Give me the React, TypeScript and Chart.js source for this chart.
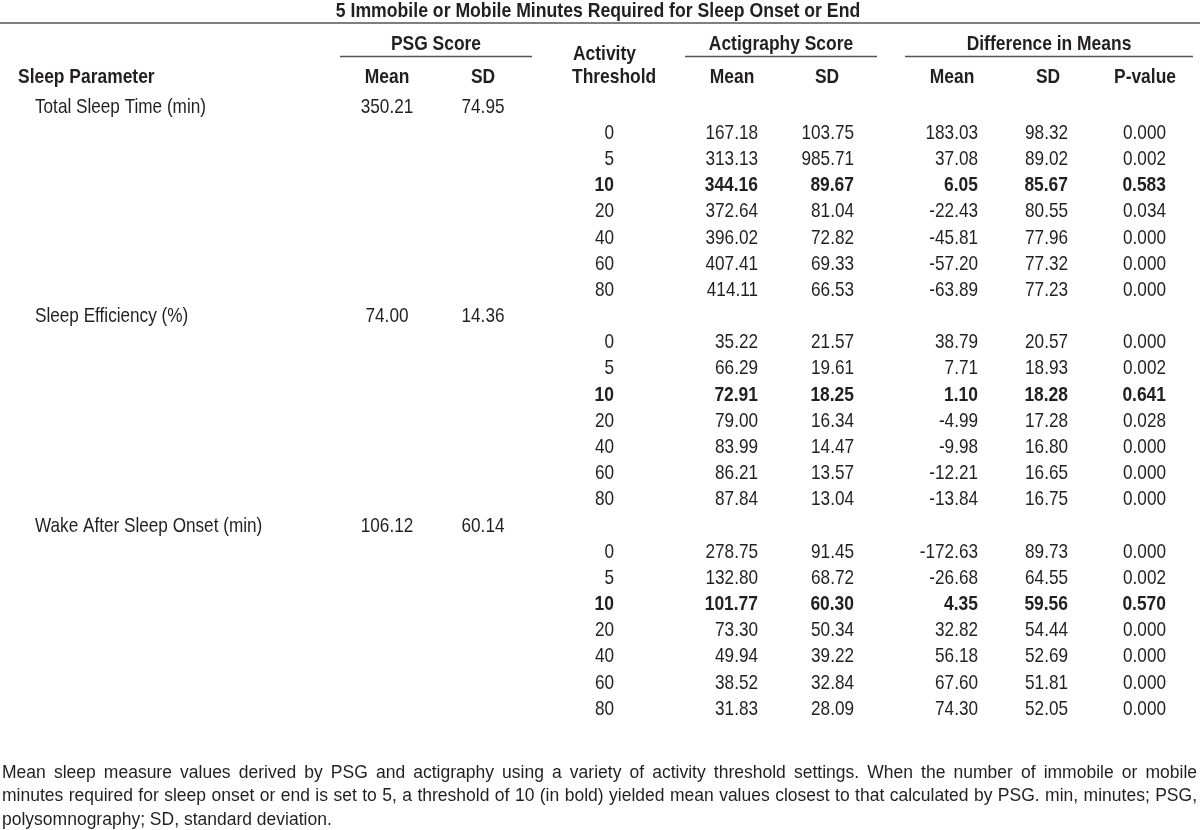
import { useEffect, useRef } from "react";
import { Chart, registerables } from "chart.js";

Chart.register(...registerables);

// ---------------- data ----------------
const title = "5 Immobile or Mobile Minutes Required for Sleep Onset or End";
const sleepParameters = ["Total Sleep Time (min)", "Sleep Efficiency (%)", "Wake After Sleep Onset (min)"];
const psgMean = [350.21, 74.0, 106.12];
const psgSD = [74.95, 14.36, 60.14];
const thresholds = [0, 5, 10, 20, 40, 60, 80];
const boldThreshold = 10;
const actMeanTST = [167.18, 313.13, 344.16, 372.64, 396.02, 407.41, 414.11];
const actMeanSE = [35.22, 66.29, 72.91, 79.0, 83.99, 86.21, 87.84];
const actMeanWASO = [278.75, 132.8, 101.77, 73.3, 49.94, 38.52, 31.83];
const actSDTST = [103.75, 985.71, 89.67, 81.04, 72.82, 69.33, 66.53];
const actSDSE = [21.57, 19.61, 18.25, 16.34, 14.47, 13.57, 13.04];
const actSDWASO = [91.45, 68.72, 60.3, 50.34, 39.22, 32.84, 28.09];
const diffMeanTST = [183.03, 37.08, 6.05, -22.43, -45.81, -57.2, -63.89];
const diffMeanSE = [38.79, 7.71, 1.1, -4.99, -9.98, -12.21, -13.84];
const diffMeanWASO = [-172.63, -26.68, 4.35, 32.82, 56.18, 67.6, 74.3];
const diffSDTST = [98.32, 89.02, 85.67, 80.55, 77.96, 77.32, 77.23];
const diffSDSE = [20.57, 18.93, 18.28, 17.28, 16.8, 16.65, 16.75];
const diffSDWASO = [89.73, 64.55, 59.56, 54.44, 52.69, 51.81, 52.05];
const pValueTST = [0.0, 0.002, 0.583, 0.034, 0.0, 0.0, 0.0];
const pValueSE = [0.0, 0.002, 0.641, 0.028, 0.0, 0.0, 0.0];
const pValueWASO = [0.0, 0.002, 0.57, 0.0, 0.0, 0.0, 0.0];
const groupHeaders = ["PSG Score", "Actigraphy Score", "Difference in Means"];
const subHeaders = ["Mean", "SD", "Mean", "SD", "Mean", "SD", "P-value"];
const footnoteLines = [
  "Mean sleep measure values derived by PSG and actigraphy using a variety of activity threshold settings. When the number of immobile or mobile",
  "minutes required for sleep onset or end is set to 5, a threshold of 10 (in bold) yielded mean values closest to that calculated by PSG. min, minutes; PSG,",
  "polysomnography; SD, standard deviation.",
];

// ---------------- layout / style ----------------
const W = 1200;
const H = 830;
const FONT = '"Liberation Sans", Arial, sans-serif';
const TEXT_SIZE = 21;
const NARROW = 0.817; // emulate Arial Narrow
const NARROW_BOLD = 0.83;
const NARROW_TITLE = 0.84;
const FOOT_SIZE = 17.5;
const TEXT_COLOR = "#231f20";
const RULE_COLOR = "#555";
const ROW_Y0 = 107; // pixel centre of row 0
const ROW_H = 26.17;

type Col = { key: string; x: number; align: CanvasTextAlign };
const COLS: Col[] = [
  { key: "param", x: 35, align: "left" },
  { key: "psgMean", x: 387, align: "center" },
  { key: "psgSD", x: 483, align: "center" },
  { key: "thr", x: 614, align: "right" },
  { key: "actMean", x: 758, align: "right" },
  { key: "actSD", x: 854, align: "right" },
  { key: "diffMean", x: 978, align: "right" },
  { key: "diffSD", x: 1068, align: "right" },
  { key: "p", x: 1166, align: "right" },
];

const actMean = [actMeanTST, actMeanSE, actMeanWASO];
const actSD = [actSDTST, actSDSE, actSDWASO];
const diffMean = [diffMeanTST, diffMeanSE, diffMeanWASO];
const diffSD = [diffSDTST, diffSDSE, diffSDWASO];
const pValue = [pValueTST, pValueSE, pValueWASO];

type Cell = { x: number; y: number; text: string; bold: boolean };

function buildColumns(): Cell[][] {
  const out: Cell[][] = COLS.map(() => []);
  const idx = (k: string) => COLS.findIndex((c) => c.key === k);
  let row = 0;
  sleepParameters.forEach((name, p) => {
    out[idx("param")].push({ x: COLS[idx("param")].x, y: row, text: name, bold: false });
    out[idx("psgMean")].push({ x: COLS[idx("psgMean")].x, y: row, text: psgMean[p].toFixed(2), bold: false });
    out[idx("psgSD")].push({ x: COLS[idx("psgSD")].x, y: row, text: psgSD[p].toFixed(2), bold: false });
    row++;
    thresholds.forEach((t, k) => {
      const b = t === boldThreshold;
      const put = (key: string, text: string) =>
        out[idx(key)].push({ x: COLS[idx(key)].x, y: row, text, bold: b });
      put("thr", String(t));
      put("actMean", actMean[p][k].toFixed(2));
      put("actSD", actSD[p][k].toFixed(2));
      put("diffMean", diffMean[p][k].toFixed(2));
      put("diffSD", diffSD[p][k].toFixed(2));
      put("p", pValue[p][k].toFixed(3));
      row++;
    });
  });
  return out;
}

function font(bold: boolean, size: number) {
  return `${bold ? "bold " : ""}${size}px ${FONT}`;
}

function narrowText(
  ctx: CanvasRenderingContext2D,
  text: string,
  x: number,
  y: number,
  align: CanvasTextAlign,
  bold: boolean,
  sx?: number
) {
  ctx.save();
  ctx.translate(x, y);
  ctx.scale(sx ?? (bold ? NARROW_BOLD : NARROW), 1);
  ctx.font = font(bold, TEXT_SIZE);
  ctx.textAlign = align;
  ctx.textBaseline = "middle";
  ctx.fillText(text, 0, 0);
  ctx.restore();
}

const tablePlugin = {
  id: "tableText",
  afterDatasetsDraw(chart: any) {
    const ctx: CanvasRenderingContext2D = chart.ctx;
    ctx.save();
    ctx.fillStyle = TEXT_COLOR;

    // data cells, drawn at the library's element positions
    chart.data.datasets.forEach((ds: any, di: number) => {
      const meta = chart.getDatasetMeta(di);
      meta.data.forEach((el: any, i: number) => {
        const cell = ds.data[i] as Cell;
        narrowText(ctx, cell.text, el.x, el.y, COLS[di].align, cell.bold);
      });
    });

    // rules
    ctx.strokeStyle = RULE_COLOR;
    ctx.lineWidth = 1.6;
    const rule = (x1: number, x2: number, y: number) => {
      ctx.beginPath();
      ctx.moveTo(x1, y);
      ctx.lineTo(x2, y);
      ctx.stroke();
    };
    rule(0, W, 23);
    rule(340, 532, 56.5);
    rule(685, 877, 56.5);
    rule(905, 1193, 56.5);

    // headings
    narrowText(ctx, title, 598, 11, "center", true, NARROW_TITLE);
    [436, 781, 1049].forEach((x, i) => narrowText(ctx, groupHeaders[i], x, 44, "center", true));
    [387, 483, 732, 827, 952, 1048, 1145].forEach((x, i) => narrowText(ctx, subHeaders[i], x, 77, "center", true));
    narrowText(ctx, "Sleep Parameter", 18, 77, "left", true);
    narrowText(ctx, "Activity", 573, 54, "left", true);
    narrowText(ctx, "Threshold", 572, 77, "left", true);

    // footnote, justified
    ctx.font = font(false, FOOT_SIZE);
    ctx.textBaseline = "middle";
    ctx.textAlign = "left";
    const left = 2;
    const right = 1197;
    footnoteLines.forEach((line, li) => {
      const y = 773 + li * 23.5;
      if (li === footnoteLines.length - 1) {
        ctx.fillText(line, left, y);
        return;
      }
      const words = line.split(" ");
      const widths = words.map((w) => ctx.measureText(w).width);
      const sum = widths.reduce((a, b) => a + b, 0);
      const gap = (right - left - sum) / (words.length - 1);
      let x = left;
      words.forEach((w, i) => {
        ctx.fillText(w, x, y);
        x += widths[i] + gap;
      });
    });
    ctx.restore();
  },
};

export default function App() {
  const ref = useRef<HTMLCanvasElement | null>(null);
  useEffect(() => {
    document.body.style.margin = "0";
    const columns = buildColumns();
    const chart = new Chart(ref.current as HTMLCanvasElement, {
      type: "scatter",
      data: {
        datasets: columns.map((cells, i) => ({
          label: COLS[i].key,
          data: cells as any,
          pointRadius: 0,
          pointHoverRadius: 0,
        })),
      },
      options: {
        animation: false,
        responsive: false,
        events: [],
        layout: { padding: 0 },
        plugins: { legend: { display: false }, tooltip: { enabled: false }, title: { display: false } },
        scales: {
          x: { type: "linear", display: false, min: 0, max: W },
          y: {
            type: "linear",
            display: false,
            reverse: true,
            min: -ROW_Y0 / ROW_H,
            max: (H - ROW_Y0) / ROW_H,
          },
        },
      },
      plugins: [tablePlugin],
    });
    return () => chart.destroy();
  }, []);
  return (
    <div style={{ position: "absolute", left: 0, top: 0, width: W, height: H, background: "#fff" }}>
      <canvas ref={ref} width={W} height={H} style={{ width: W, height: H, display: "block" }} />
    </div>
  );
}
